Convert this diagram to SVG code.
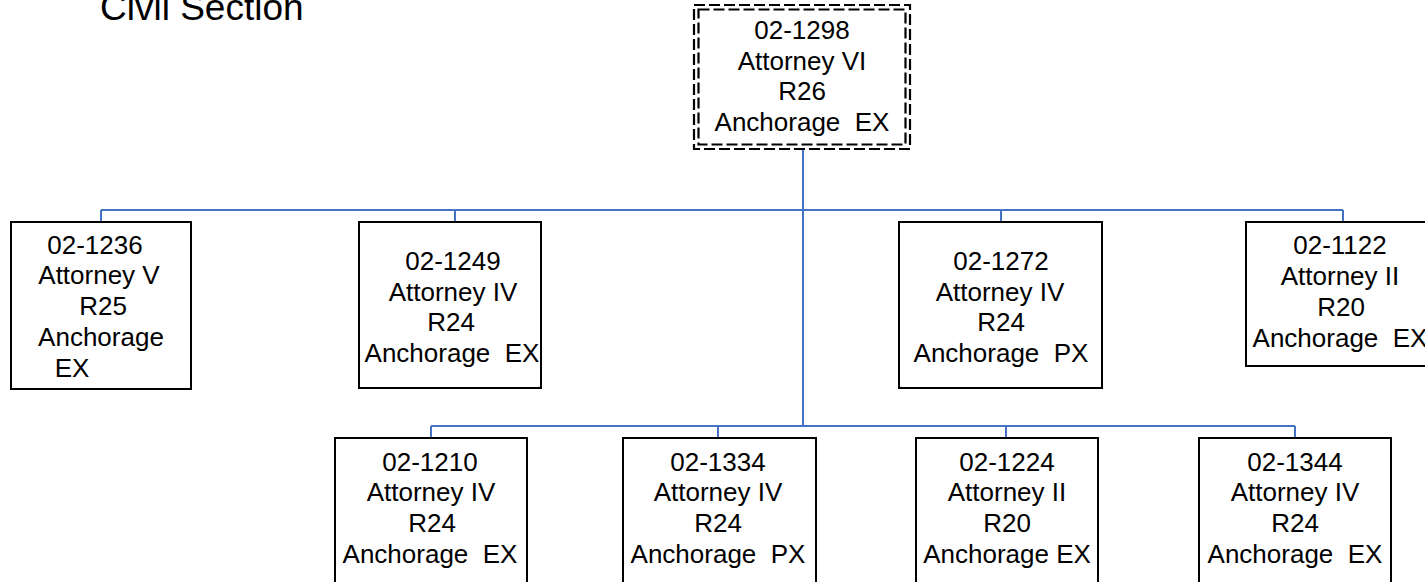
<svg xmlns="http://www.w3.org/2000/svg" width="1425" height="582" viewBox="0 0 1425 582">
<style>
text{font-family:"Liberation Sans",Arial,sans-serif;font-size:26px;fill:#000;text-anchor:middle;white-space:pre}
.title{font-size:37px;text-anchor:start}
.box{fill:#fff;stroke:#000;stroke-width:2}
.dash{fill:none;stroke:#000;stroke-width:2.2;stroke-dasharray:11 4}
.conn{fill:none;stroke:#4472C4;stroke-width:2}
</style>
<rect width="1425" height="582" fill="#fff"/>
<text class="title" x="100" y="20">Civil Section</text>
<g id="connectors">
<path class="conn" d="M803 150V426M101 210H1343M101 210V222M455 210V222M1001 210V222M1343 210V222M431 426H1295M431 426V438M718 426V438M1006 426V438M1295 426V438"/>
</g>
<g id="n1298">
<rect x="694" y="5" width="216" height="144" fill="#fff"/>
<rect class="dash" x="694" y="5" width="216" height="144"/>
<rect class="dash" x="698.5" y="9.5" width="207" height="135"/>
<text x="802" y="39">02-1298</text>
<text x="802" y="70">Attorney VI</text>
<text x="802" y="100">R26</text>
<text x="802" y="131" xml:space="preserve">Anchorage  EX</text>
</g>
<g id="n1236">
<rect class="box" x="11" y="222" width="180" height="167"/>
<text x="95" y="254">02-1236</text>
<text x="99" y="284">Attorney V</text>
<text x="103" y="315">R25</text>
<text x="101" y="346">Anchorage</text>
<text x="72" y="377">EX</text>
</g>
<g id="n1249">
<rect class="box" x="359" y="222" width="182" height="166"/>
<text x="453" y="270">02-1249</text>
<text x="453" y="301">Attorney IV</text>
<text x="451" y="331">R24</text>
<text x="452" y="362" xml:space="preserve">Anchorage  EX</text>
</g>
<g id="n1272">
<rect class="box" x="899" y="222" width="203" height="166"/>
<text x="1001" y="270">02-1272</text>
<text x="1000" y="301">Attorney IV</text>
<text x="1001" y="331">R24</text>
<text x="1001" y="362" xml:space="preserve">Anchorage  PX</text>
</g>
<g id="n1122">
<rect class="box" x="1246" y="222" width="190" height="144"/>
<text x="1340" y="254">02-1122</text>
<text x="1340" y="285">Attorney II</text>
<text x="1341" y="316">R20</text>
<text x="1340" y="347" xml:space="preserve">Anchorage  EX</text>
</g>
<g id="n1210">
<rect class="box" x="335" y="438" width="192" height="150"/>
<text x="430" y="471">02-1210</text>
<text x="431" y="501">Attorney IV</text>
<text x="432" y="532">R24</text>
<text x="430" y="563" xml:space="preserve">Anchorage  EX</text>
</g>
<g id="n1334">
<rect class="box" x="623" y="438" width="193" height="150"/>
<text x="718" y="471">02-1334</text>
<text x="718" y="501">Attorney IV</text>
<text x="718" y="532">R24</text>
<text x="718" y="563" xml:space="preserve">Anchorage  PX</text>
</g>
<g id="n1224">
<rect class="box" x="916" y="438" width="182" height="150"/>
<text x="1007" y="471">02-1224</text>
<text x="1007" y="501">Attorney II</text>
<text x="1007" y="532">R20</text>
<text x="1007" y="563">Anchorage EX</text>
</g>
<g id="n1344">
<rect class="box" x="1199" y="438" width="192" height="150"/>
<text x="1295" y="471">02-1344</text>
<text x="1295" y="501">Attorney IV</text>
<text x="1295" y="532">R24</text>
<text x="1295" y="563" xml:space="preserve">Anchorage  EX</text>
</g>
</svg>
